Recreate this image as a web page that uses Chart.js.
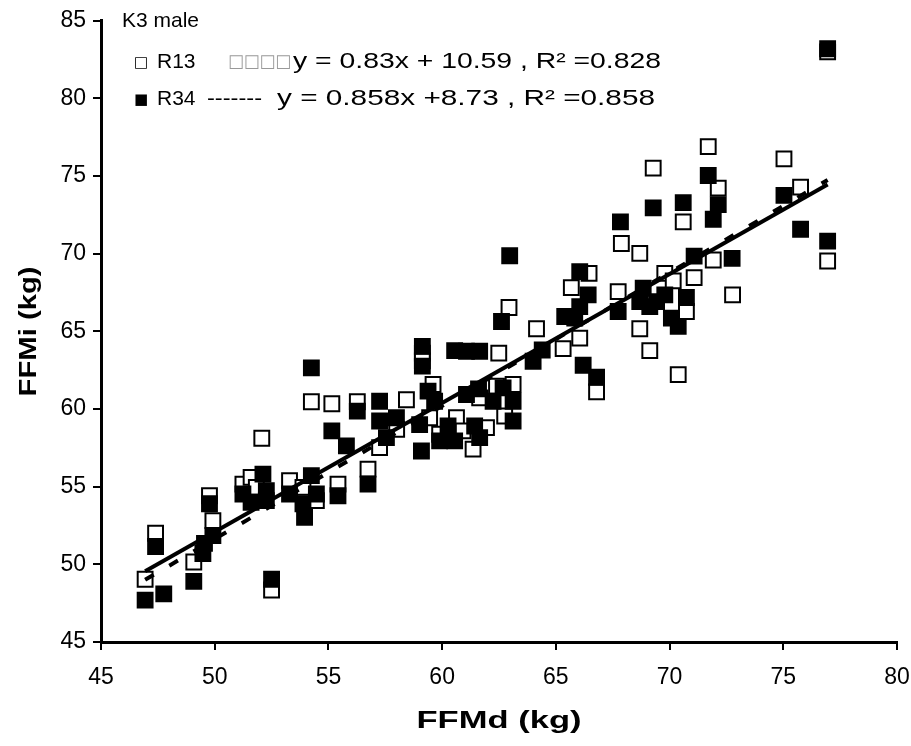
<!DOCTYPE html>
<html><head><meta charset="utf-8">
<script src="https://cdn.jsdelivr.net/npm/chart.js@4"></script>
<style>html,body{margin:0;padding:0;background:#fff}#wrap{width:911px;height:746px;position:relative}</style>
</head><body><div id="wrap"><canvas id="c" width="911" height="746"></canvas></div>
<script>
// ---- data ----
const r13X = [46.94,47.4,49.08,49.77,49.92,51.24,51.6,51.83,52.07,52.5,53.29,53.88,54.25,54.47,55.15,55.42,56.27,56.74,57.25,58.0,58.43,59.13,59.13,59.45,59.6,59.89,60.63,60.92,61.36,61.65,61.95,62.39,62.49,62.75,62.94,63.12,64.15,65.32,65.68,66.05,66.46,66.79,67.74,67.88,68.69,68.69,69.13,69.28,69.79,70.16,70.38,70.6,70.74,71.08,71.7,71.92,72.14,72.77,75.03,75.76,76.95,76.95];
const r13Y = [49.04,52.0,50.15,54.42,52.82,55.17,55.6,54.96,58.12,48.35,55.38,54.96,60.47,54.1,60.34,55.17,60.47,56.13,57.52,58.7,60.6,63.6,63.1,59.44,61.58,58.38,59.44,58.59,57.42,60.72,58.8,61.47,63.6,59.55,66.54,61.58,65.17,63.89,67.82,64.57,68.74,61.11,67.56,70.66,70.02,65.17,63.76,75.51,68.74,68.25,62.22,72.05,66.28,68.46,76.9,69.6,74.23,67.35,76.11,74.29,69.53,83.0];
const r34X = [46.94,47.4,47.76,49.08,49.48,49.55,49.77,49.92,51.24,51.6,52.12,52.27,52.27,52.5,53.29,53.88,53.95,54.25,54.25,54.47,55.15,55.42,55.79,56.27,56.74,57.25,57.25,57.55,57.99,59.01,59.09,59.13,59.13,59.38,59.67,59.89,60.26,60.55,60.55,61.07,61.07,61.43,61.6,61.65,61.65,62.24,62.61,62.68,62.97,63.12,63.12,64.0,64.4,65.39,65.83,66.05,66.05,66.2,66.42,66.79,67.74,67.84,68.69,68.84,69.13,69.28,69.43,69.79,70.08,70.38,70.6,70.74,71.08,71.7,71.92,72.14,72.75,75.03,75.76,76.95,76.95];
const r34Y = [47.7,51.15,48.1,48.9,50.7,51.35,53.9,51.86,54.53,54.0,55.81,54.74,54.1,49.04,54.53,53.9,53.03,55.71,62.65,54.53,58.59,54.42,57.63,59.87,55.17,60.5,59.23,58.16,59.44,59.0,57.3,64.04,62.76,61.15,60.5,57.95,58.91,63.76,57.95,63.72,60.94,58.91,61.3,63.72,58.16,60.5,65.64,61.36,69.87,60.5,59.23,63.08,63.8,65.96,65.85,68.85,66.6,62.82,67.35,62.05,66.28,72.05,66.92,67.78,66.6,72.95,66.92,67.35,65.85,65.32,73.29,67.18,69.85,75.04,72.22,73.16,69.7,73.76,71.58,70.81,83.2];
const xTicks = [45,50,55,60,65,70,75,80];
const yTicks = [45,50,55,60,65,70,75,80,85];
const seriesNames = ['R13','R34'];
const fitSlope = [0.83, 0.858];
const fitIntercept = [10.59, 8.73];
const legendTitle = 'K3 male';
const legendMarks = ['\u25A1','\u25A0'];
const lineSymbols = ['\u25A1\u25A1\u25A1\u25A1','-------'];
const equations = ['y = 0.83x + 10.59 , R\u00B2 =0.828','y = 0.858x +8.73 , R\u00B2 =0.858'];
const xTitle = 'FFMd (kg)';
const yTitle = 'FFMi (kg)';

// ---- build ----
const pts = (xs, ys) => xs.map((x, i) => ({x: x, y: ys[i]}));
const xmin = Math.min(...r13X, ...r34X), xmax = Math.max(...r13X, ...r34X);
const fitLine = k => [xmin, xmax].map(x => ({x: x, y: fitSlope[k] * x + fitIntercept[k]}));
const FONT = '"Liberation Sans", Arial, sans-serif';

// draw text stretched to a given width (the reference text is wide)
function wideText(ctx, txt, x, y, w) {
  const m = ctx.measureText(txt).width;
  ctx.save();
  ctx.translate(x, y);
  ctx.scale(w / m, 1);
  ctx.fillText(txt, 0, 0);
  ctx.restore();
}

const textPlugin = {
  id: 'textLegend',
  afterDraw(chart) {
    const ctx = chart.ctx;
    const ca = chart.chartArea;
    ctx.save();
    ctx.textBaseline = 'middle';
    ctx.textAlign = 'left';
    ctx.fillStyle = '#000';
    ctx.font = '21px ' + FONT;
    ctx.fillText(legendTitle, 122, 21);
    const rows = [62, 99];
    const symX = [228, 207];
    const symW = [63, 55];
    const eqX = [293, 277];
    const eqW = [368, 378];
    for (let k = 0; k < 2; k++) {
      ctx.font = '15px "DejaVu Sans", sans-serif';
      ctx.fillStyle = '#000';
      ctx.fillText(legendMarks[k], 134, rows[k] + 1);
      ctx.font = '21px ' + FONT;
      ctx.fillText(seriesNames[k], 157, rows[k]);
      if (k === 0) { ctx.fillStyle = '#999'; ctx.font = '18px "DejaVu Sans", sans-serif'; }
      wideText(ctx, lineSymbols[k], symX[k], rows[k], symW[k]);
      ctx.fillStyle = '#000';
      ctx.font = '22px ' + FONT;
      wideText(ctx, equations[k], eqX[k], rows[k], eqW[k]);
    }
    // axis titles
    ctx.font = 'bold 23px ' + FONT;
    ctx.textAlign = 'left';
    const xw = 165;
    wideText(ctx, xTitle, (ca.left + ca.right) / 2 - xw / 2, 722, xw);
    ctx.save();
    ctx.translate(30, (ca.top + ca.bottom) / 2);
    ctx.rotate(-Math.PI / 2);
    const yw = 130;
    wideText(ctx, yTitle, -yw / 2, 0, yw);
    ctx.restore();
    ctx.restore();
  }
};

new Chart(document.getElementById('c'), {
  type: 'scatter',
  data: {
    datasets: [
      {type: 'line', label: 'fit ' + seriesNames[0], data: fitLine(0), borderColor: '#000', borderWidth: 4, pointRadius: 0, fill: false},
      {type: 'line', label: 'fit ' + seriesNames[1], data: fitLine(1), borderColor: '#000', borderWidth: 4, borderDash: [10, 18], pointRadius: 0, fill: false},
      {label: seriesNames[1], data: pts(r34X, r34Y), pointStyle: 'rect', pointRadius: 10.5, pointBorderWidth: 2, backgroundColor: '#000', borderColor: '#000'},
      {label: seriesNames[0], data: pts(r13X, r13Y), pointStyle: 'rect', pointRadius: 10.5, pointBorderWidth: 2, backgroundColor: '#fff', borderColor: '#000'}
    ]
  },
  options: {
    responsive: false,
    animation: false,
    devicePixelRatio: 1,
    layout: {padding: {left: 0, top: 19, right: 0, bottom: 0}},
    plugins: {legend: {display: false}, tooltip: {enabled: false}},
    scales: {
      x: {
        type: 'linear', min: 45, max: 80,
        afterBuildTicks: s => { s.ticks = xTicks.map(v => ({value: v})); },
        afterFit: s => { s.height = 104; s.paddingRight = 14; s.paddingLeft = 0; },
        grid: {drawOnChartArea: false, drawTicks: true, tickLength: 8, color: '#000', lineWidth: 2},
        border: {display: true, color: '#000', width: 3},
        ticks: {color: '#000', font: {family: FONT, size: 23}, padding: 14, maxRotation: 0},
        title: {display: false, text: xTitle}
      },
      y: {
        type: 'linear', min: 45, max: 85,
        afterBuildTicks: s => { s.ticks = yTicks.map(v => ({value: v})); },
        afterFit: s => { s.width = 101; },
        grid: {drawOnChartArea: false, drawTicks: true, tickLength: 8, color: '#000', lineWidth: 2},
        border: {display: true, color: '#000', width: 3},
        ticks: {color: '#000', font: {family: FONT, size: 23}, padding: 7},
        title: {display: false, text: yTitle}
      }
    }
  },
  plugins: [textPlugin]
});
</script></body></html>
